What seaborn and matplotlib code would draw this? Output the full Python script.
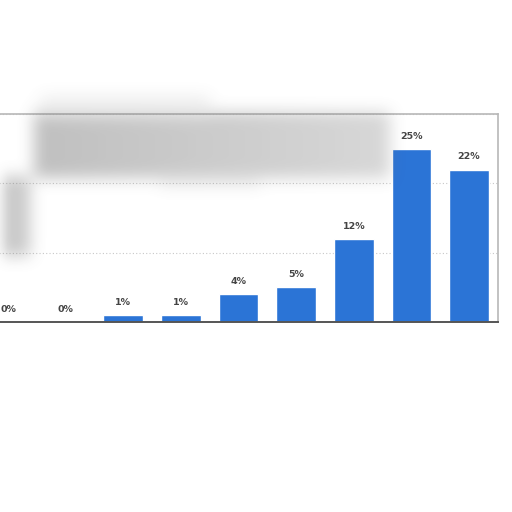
import matplotlib
matplotlib.use("Agg")
import matplotlib.pyplot as plt
import seaborn as sns
import pandas as pd
import numpy as np

# values (x labels are not visible in the reference)
categories = ["c1", "c2", "c3", "c4", "c5", "c6", "c7", "c8", "c9"]
values = [0, 0, 1, 1, 4, 5, 12, 25, 22]
labels = ["0%", "0%", "1%", "1%", "4%", "5%", "12%", "25%", "22%"]
yticks = [0, 10, 20, 30]

df = pd.DataFrame({"cat": categories, "val": values})

sns.set_style("white")
plt.rcParams['font.family'] = ['DejaVu Sans']

fig = plt.figure(figsize=(5.12, 5.12), dpi=100)
ax = fig.add_axes([-0.0406, 0.371, 1.013, 0.406])

sns.barplot(data=df, x="cat", y="val", color="#2b74d6", width=0.69,
            saturation=1, ax=ax)

ax.set_xlim(-0.5, 8.5)
ax.set_ylim(0, 30)
ax.set_yticks(yticks)
ax.yaxis.grid(True, linestyle=(0, (1, 2)), color="#c8c8c8", linewidth=0.8)
ax.set_axisbelow(True)
ax.set_xticks([])
ax.set_yticklabels([])
ax.tick_params(left=False)
ax.set_xlabel("")
ax.set_ylabel("")

for s in ["top", "right"]:
    ax.spines[s].set_color("#b8b8b8")
    ax.spines[s].set_linewidth(1.2)
ax.spines["bottom"].set_color("#555555")
ax.spines["bottom"].set_linewidth(1.4)
ax.spines["left"].set_visible(False)

for i, (v, t) in enumerate(zip(values, labels)):
    ax.text(i, v + 1.2, t, ha="center", va="bottom", fontsize=6.8,
            fontweight="bold", color="#444444")


# blurred grey smudges (image overlay in pixel space)
def blur(a, r, n=3):
    for _ in range(n):
        k = np.ones(2 * r + 1) / (2 * r + 1)
        a = np.apply_along_axis(lambda m: np.convolve(m, k, mode="same"), 0, a)
        a = np.apply_along_axis(lambda m: np.convolve(m, k, mode="same"), 1, a)
    return a


mask = np.zeros((512, 512))
mask[112:178, 34:390] = np.linspace(0.45, 0.28, 356)
mask[175:185, 160:260] = 0.2
mask[176:256, 0:30] = 0.38
mask[96:116, 40:210] = 0.12
mask = blur(mask, 7)
rgba = np.zeros((512, 512, 4))
rgba[..., :3] = 0.45
rgba[..., 3] = np.clip(mask, 0, 1)
fig.figimage(rgba[::-1], xo=0, yo=0, origin="lower", zorder=5)

fig.savefig("out.png", dpi=100)
